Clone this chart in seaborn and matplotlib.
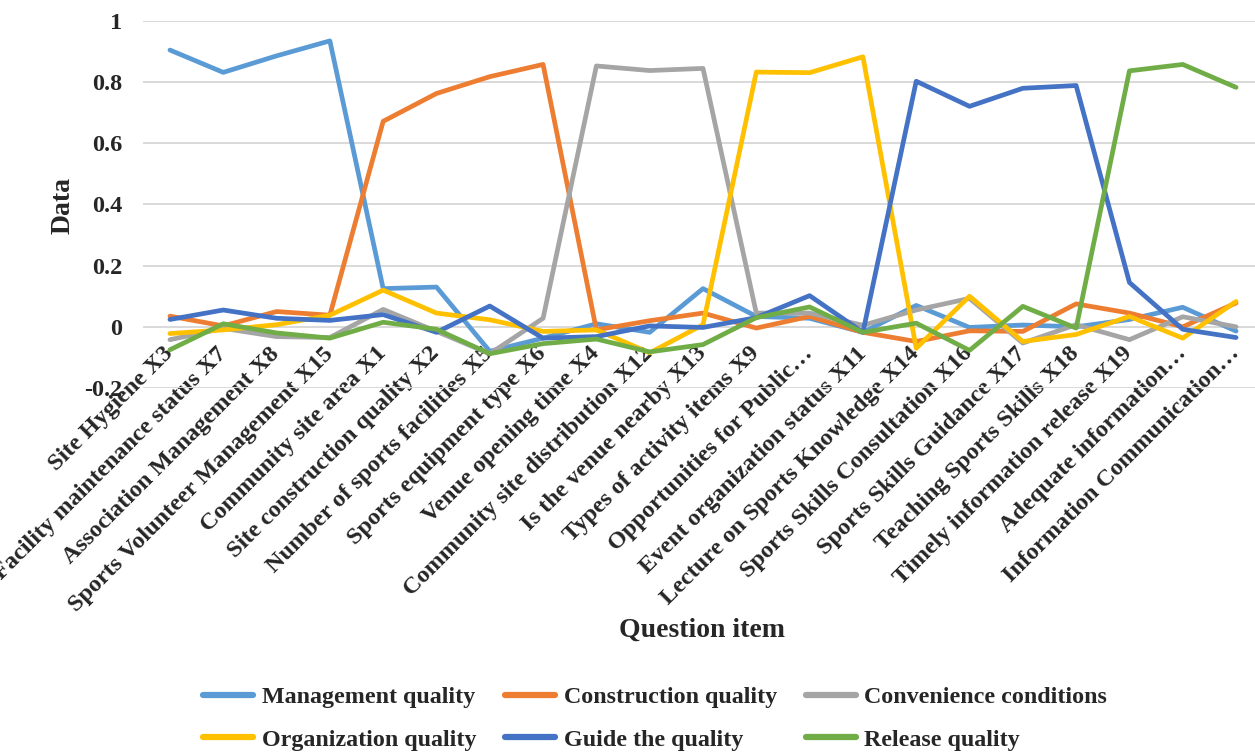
import numpy as np
import pandas as pd
import matplotlib
matplotlib.use("Agg")
import matplotlib.pyplot as plt
import seaborn as sns
from matplotlib.lines import Line2D

categories = [
    "Site Hygiene X3", "Facility maintenance status X7", "Association Management X8",
    "Sports Volunteer Management X15", "Community site area X1", "Site construction quality X2",
    "Number of sports facilities X5", "Sports equipment type X6", "Venue opening time X4",
    "Community site distribution X12", "Is the venue nearby X13", "Types of activity items X9",
    "Opportunities for Public\u2026", "Event organization status X11", "Lecture on Sports Knowledge X14",
    "Sports Skills Consultation X16", "Sports Skills Guidance X17", "Teaching Sports Skills X18",
    "Timely information release X19", "Adequate information\u2026", "Information Communication\u2026",
]

management = [0.905, 0.832, 0.886, 0.935, 0.125, 0.130, -0.080, -0.037, 0.010, -0.018, 0.125,
              0.034, 0.028, -0.018, 0.070, -0.002, 0.006, 0.000, 0.024, 0.064, -0.014]
construction = [0.035, 0.003, 0.050, 0.038, 0.672, 0.763, 0.818, 0.858, -0.010, 0.020, 0.045,
                -0.004, 0.034, -0.018, -0.048, -0.013, -0.015, 0.075, 0.045, 0.000, 0.078]
convenience = [-0.042, -0.005, -0.032, -0.035, 0.057, -0.015, -0.088, 0.028, 0.853, 0.838, 0.845,
               0.045, 0.045, 0.005, 0.055, 0.093, -0.053, 0.007, -0.042, 0.033, 0.000]
organization = [-0.022, -0.010, 0.007, 0.038, 0.120, 0.045, 0.023, -0.015, -0.010, -0.085, 0.007,
                0.833, 0.831, 0.883, -0.070, 0.100, -0.048, -0.025, 0.034, -0.037, 0.083]
guide = [0.024, 0.055, 0.028, 0.021, 0.040, -0.018, 0.068, -0.037, -0.032, 0.003, -0.002,
         0.030, 0.102, -0.018, 0.803, 0.721, 0.780, 0.789, 0.145, -0.008, -0.035]
release = [-0.075, 0.010, -0.020, -0.037, 0.015, -0.008, -0.088, -0.055, -0.040, -0.082, -0.058,
           0.030, 0.065, -0.018, 0.012, -0.077, 0.067, -0.004, 0.837, 0.858, 0.783]

series_names = ["Management quality", "Construction quality", "Convenience conditions",
                "Organization quality", "Guide the quality", "Release quality"]
series_values = [management, construction, convenience, organization, guide, release]
colors = ["#5B9BD5", "#ED7D31", "#A5A5A5", "#FFC000", "#4472C4", "#70AD47"]

y_ticks = [-0.2, 0, 0.2, 0.4, 0.6, 0.8, 1]
y_tick_labels = ["-0.2", "0", "0.2", "0.4", "0.6", "0.8", "1"]

rows = []
for name, vals in zip(series_names, series_values):
    for cat, v in zip(categories, vals):
        rows.append({"Question item": cat, "Data": v, "Series": name})
df = pd.DataFrame(rows)

sns.set_style("white")
plt.rcParams["font.family"] = ["Liberation Serif", "DejaVu Serif"]
plt.rcParams["font.weight"] = "bold"

W, H = 1255, 754
fig = plt.figure(figsize=(W / 100, H / 100), dpi=100)
ax_left, ax_right = 143.3, 1262.7
ax_top, ax_bottom = 21, 388
ax = fig.add_axes([ax_left / W, 1 - ax_bottom / H, (ax_right - ax_left) / W, (ax_bottom - ax_top) / H])

sns.lineplot(data=df, x="Question item", y="Data", hue="Series", hue_order=series_names,
             palette=colors, linewidth=3.4, sort=False, ax=ax, legend=False,
             solid_capstyle="round", solid_joinstyle="round")

ax.set_xlim(-0.5, len(categories) - 0.5)
ax.set_ylim(-0.2, 1.0)
ax.set_yticks(y_ticks)
ax.set_yticklabels(y_tick_labels, fontsize=17.5, fontweight="bold")
ax.grid(axis="y", color="#D9D9D9", linewidth=1.4)
ax.grid(axis="x", visible=False)
ax.set_axisbelow(True)
for s in ["left", "right", "top"]:
    ax.spines[s].set_visible(False)
ax.spines["bottom"].set_position(("data", 0))
ax.spines["bottom"].set_visible(False)
ax.tick_params(axis="both", length=0)
ax.tick_params(axis="y", pad=15)
ax.tick_params(axis="x", pad=17)

ax.set_xticks(range(len(categories)))
ax.set_xticklabels(categories, rotation=45, ha="right", rotation_mode="anchor",
                   fontsize=17.5, fontweight="bold", va="center")

ax.set_xlabel("Question item", fontsize=20, fontweight="bold")
ax.xaxis.set_label_coords((702 - ax_left) / (ax_right - ax_left), (ax_bottom - 630) / (ax_bottom - ax_top))
ax.xaxis.label.set_va("center")
ax.set_ylabel("Data", fontsize=20, fontweight="bold")
ax.yaxis.set_label_coords((63 - ax_left) / (ax_right - ax_left), (ax_bottom - 205) / (ax_bottom - ax_top))
ax.yaxis.label.set_va("center")

handles = [Line2D([], [], color=c, linewidth=4.5, solid_capstyle="round") for c in colors]
order = [0, 3, 1, 4, 2, 5]
leg = fig.legend([handles[i] for i in order], [series_names[i] for i in order],
                 ncol=3, loc="center", bbox_to_anchor=(655 / W, 1 - 718.5 / H),
                 frameon=False, fontsize=17.3, handlelength=2.1, handletextpad=0.35,
                 columnspacing=1.2, labelspacing=0.85, borderpad=0)
for t in leg.get_texts():
    t.set_fontweight("bold")

fig.savefig("out.png", dpi=100)
